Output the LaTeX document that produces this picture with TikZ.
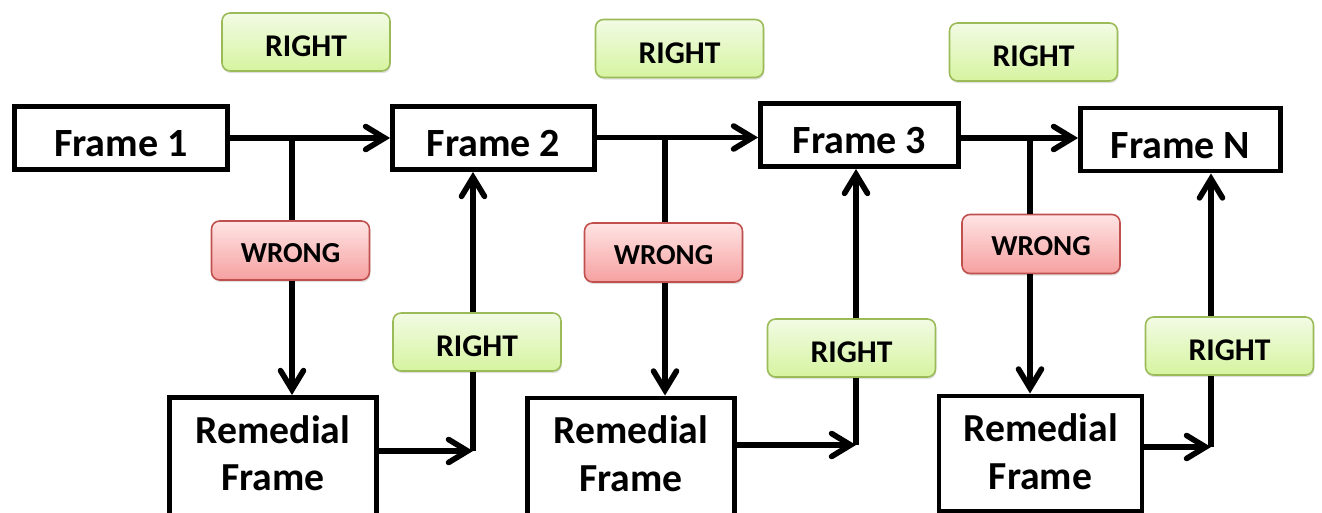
\documentclass[tikz,border=0pt]{standalone}
\usepackage{fontspec}
\setmainfont{Carlito}
\usetikzlibrary{arrows.meta,shadows}
\definecolor{righttop}{HTML}{F2FBE4}
\definecolor{rightbot}{HTML}{D6F4A0}
\definecolor{rightline}{HTML}{9BBB59}
\definecolor{wrongtop}{HTML}{FFE4E4}
\definecolor{wrongbot}{HTML}{F6A0A0}
\definecolor{wrongline}{HTML}{C0504D}

\begin{document}
\begin{tikzpicture}[
  x=0.02cm, y=-0.02cm,
  frameblock/.style={rectangle, draw, line width=2.8pt, minimum width=4cm, minimum height=1.26cm, font=\fontsize{22.8}{27}\selectfont\bfseries, text height=21.6pt, text depth=0pt},
  remblock/.style={rectangle, draw, line width=2.8pt, minimum width=4.14cm, minimum height=2.5cm, anchor=north, align=center, text depth=8pt, font=\fontsize{22.6}{27}\selectfont\bfseries},
  rightlbl/.style={rectangle, rounded corners=0.16cm, draw=rightline, line width=0.9pt, top color=righttop, bottom color=rightbot, minimum width=3.36cm, minimum height=1.16cm, font=\fontsize{18}{22}\selectfont\bfseries, text height=17pt, text depth=0pt, drop shadow={shadow xshift=0.5pt, shadow yshift=-1.2pt, opacity=0.25}},
  wronglbl/.style={rectangle, rounded corners=0.16cm, draw=wrongline, line width=0.9pt, top color=wrongtop, bottom color=wrongbot, minimum width=3.16cm, minimum height=1.18cm, font=\fontsize{16.5}{20}\selectfont\bfseries, text height=13.6pt, text depth=0pt, drop shadow={shadow xshift=0.5pt, shadow yshift=-1.2pt, opacity=0.25}},
  wire/.style={line width=3.2pt},
  arr/.style={wire, -{Straight Barb[length=3.8mm, width=4.6mm, line cap=round]}}
]
\useasboundingbox (0,0) rectangle (1322,513);

\node[frameblock, minimum width=4.26cm] (f1) at (121,138) {Frame 1};
\node[frameblock, minimum width=4.04cm] (f2) at (493.5,138) {Frame 2};
\node[frameblock, minimum width=3.96cm] (f3) at (859.5,135) {Frame 3};
\node[frameblock] (fN) at (1180.5,139.5) {Frame N};

\node[remblock] (r1) at (273,395) {Remedial\\Frame};
\node[remblock] (r2) at (631,395.5) {Remedial\\Frame};
\node[remblock, minimum width=4.06cm, minimum height=2.31cm, text depth=2.5pt] (r3) at (1040.5,393.5) {Remedial\\Frame};

\node[rightlbl] (t1) at (306,42) {RIGHT};
\node[rightlbl] (t2) at (679.5,48.5) {RIGHT};
\node[rightlbl] (t3) at (1033.5,52) {RIGHT};

\node[wronglbl] (w1) at (290.5,250.5) {WRONG};
\node[wronglbl] (w2) at (663.5,252.5) {WRONG};
\node[wronglbl] (w3) at (1041,244) {WRONG};

\node[rightlbl] (g1) at (477,342) {RIGHT};
\node[rightlbl] (g2) at (851.5,348) {RIGHT};
\node[rightlbl] (g3) at (1229.5,346) {RIGHT};

\coordinate (b1) at (292,138);
\coordinate (b2) at (665,137.5);
\coordinate (b3) at (1030,138);
\coordinate (j1) at (473,451);
\coordinate (j2) at (856,445);
\coordinate (j3) at (1211,447);

\draw[arr] (f1.east |- b1) -- (b1 -| f2.west);
\draw[arr] (f2.east |- b2) -- (b2 -| f3.west);
\draw[arr] (f3.east |- b3) -- (b3 -| fN.west);

\draw[wire] (b1) -- (b1 |- w1.north);
\draw[arr] (b1 |- w1.south) -- (b1 |- r1.north);
\draw[wire] (b2) -- (b2 |- w2.north);
\draw[arr] (b2 |- w2.south) -- (b2 |- r2.north);
\draw[wire] (b3) -- (b3 |- w3.north);
\draw[arr] (b3 |- w3.south) -- (b3 |- r3.north);

\draw[arr] (r1.east |- j1) -- (j1);
\draw[wire] (j1) -- (j1 |- g1.south);
\draw[arr] (j1 |- g1.north) -- (j1 |- f2.south);
\draw[arr] (r2.east |- j2) -- (j2);
\draw[wire] (j2) -- (j2 |- g2.south);
\draw[arr] (j2 |- g2.north) -- (j2 |- f3.south);
\draw[arr] (r3.east |- j3) -- (j3);
\draw[wire] (j3) -- (j3 |- g3.south);
\draw[arr] (j3 |- g3.north) -- (j3 |- fN.south);
\end{tikzpicture}
\end{document}
